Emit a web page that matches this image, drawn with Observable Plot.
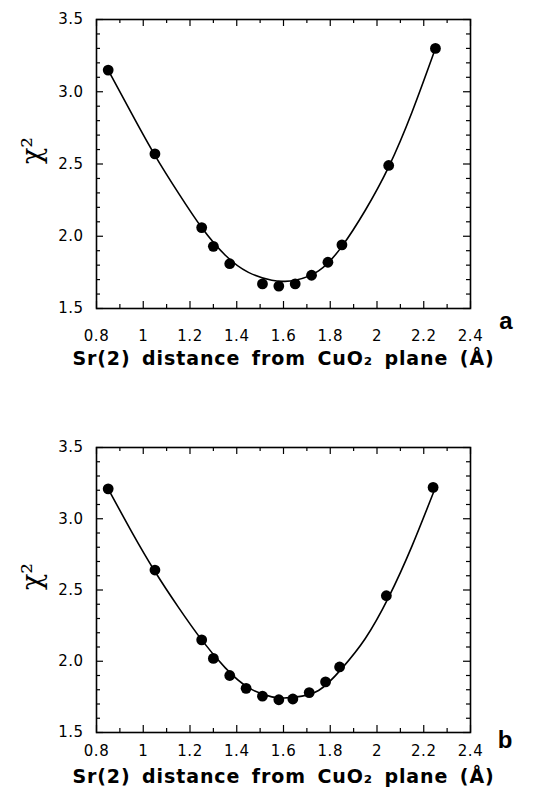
<!DOCTYPE html>
<html>
<head>
<meta charset="utf-8">
<script src="https://cdn.jsdelivr.net/npm/d3@7"></script>
<script src="https://cdn.jsdelivr.net/npm/@observablehq/plot@0.6"></script>
<style>
  body { margin: 0; background: #fff; }
  #chart svg { display: block; }
</style>
</head>
<body>
<div id="chart"></div>
<script>
// chi-squared of the refinement vs. Sr(2) distance from the CuO2 plane
const distA = [0.85, 1.05, 1.25, 1.30, 1.37, 1.51, 1.58, 1.65, 1.72, 1.79, 1.85, 2.05, 2.25];
const chiA  = [3.15, 2.57, 2.06, 1.93, 1.81, 1.67, 1.655, 1.67, 1.73, 1.82, 1.94, 2.49, 3.30];

const distB = [0.85, 1.05, 1.25, 1.30, 1.37, 1.44, 1.51, 1.58, 1.64, 1.71, 1.78, 1.84, 2.04, 2.24];
const chiB  = [3.21, 2.64, 2.15, 2.02, 1.90, 1.81, 1.755, 1.73, 1.735, 1.78, 1.855, 1.96, 2.46, 3.22];

// smooth fitted curves, sampled along x
const fitX  = [0.85, 0.95, 1.05, 1.15, 1.25, 1.35, 1.45, 1.55, 1.60, 1.65, 1.75, 1.85, 1.95, 2.05, 2.15, 2.25];
const fitA  = [3.15, 2.85, 2.56, 2.30, 2.06, 1.87, 1.75, 1.695, 1.688, 1.695, 1.76, 1.93, 2.18, 2.48, 2.86, 3.30];
const fitB  = [3.21, 2.91, 2.63, 2.38, 2.15, 1.955, 1.815, 1.75, 1.742, 1.748, 1.795, 1.95, 2.16, 2.45, 2.81, 3.22];

const xMajor = [0.8, 1.0, 1.2, 1.4, 1.6, 1.8, 2.0, 2.2, 2.4];
const xMinor = [0.9, 1.1, 1.3, 1.5, 1.7, 1.9, 2.1, 2.3];
const yMajor = [1.5, 2.0, 2.5, 3.0, 3.5];
const yMinor = [1.6, 1.7, 1.8, 1.9, 2.1, 2.2, 2.3, 2.4, 2.6, 2.7, 2.8, 2.9, 3.1, 3.2, 3.3, 3.4];

const xTitle = "Sr(2) distance from CuO\u2082 plane (\u00C5)";
const yTitle = "\u03C7\u00B2";
const panelLetters = ["a", "b"];

const W = 538, ML = 96, MR = 68;
const MAJOR = 7, MINOR = 4;

function panel({xs, ys, fit, letter, height, marginTop, marginBottom, tickDy, titleDy, letterDy}) {
  const fitData = fitX.map((x, i) => ({x, y: fit[i]}));
  const pts = xs.map((x, i) => ({x, y: ys[i]}));
  const fh = height - marginTop - marginBottom; // frame height in px
  const fw = W - ML - MR;                        // frame width in px
  const tk = {stroke: "black", strokeWidth: 1.2};
  const svg = Plot.plot({
    width: W,
    height,
    marginLeft: ML,
    marginRight: MR,
    marginTop,
    marginBottom,
    x: {domain: [0.8, 2.4], label: null},
    y: {domain: [1.5, 3.5], label: null},
    style: {fontFamily: "'DejaVu Sans', sans-serif", fontSize: "15px", color: "black", background: "white", overflow: "visible"},
    marks: [
      // inward ticks on all four sides, drawn as short full-frame rules with insets
      Plot.ruleX(xMajor, {x: d => d, insetTop: fh - MAJOR, ...tk}),
      Plot.ruleX(xMinor, {x: d => d, insetTop: fh - MINOR, ...tk}),
      Plot.ruleX(xMajor, {x: d => d, insetBottom: fh - MAJOR, ...tk}),
      Plot.ruleX(xMinor, {x: d => d, insetBottom: fh - MINOR, ...tk}),
      Plot.ruleY(yMajor, {y: d => d, insetRight: fw - MAJOR, ...tk}),
      Plot.ruleY(yMinor, {y: d => d, insetRight: fw - MINOR, ...tk}),
      Plot.ruleY(yMajor, {y: d => d, insetLeft: fw - MAJOR, ...tk}),
      Plot.ruleY(yMinor, {y: d => d, insetLeft: fw - MINOR, ...tk}),
      // tick labels
      Plot.axisX(xMajor, {anchor: "bottom", tickSize: 0, tickPadding: tickDy, tickFormat: d3.format("~g"), label: null, fontSize: 15}),
      Plot.axisY(yMajor, {anchor: "left", tickSize: 0, tickPadding: 13, tickFormat: d3.format(".1f"), label: null, fontSize: 15}),
      Plot.frame({stroke: "black", strokeWidth: 1.6}),
      Plot.line(fitData, {x: "x", y: "y", curve: "natural", stroke: "black", strokeWidth: 1.6}),
      Plot.dot(pts, {x: "x", y: "y", r: 5.4, fill: "black", stroke: "none"}),
      Plot.text([yTitle], {frameAnchor: "left", dx: -64, rotate: -90, fontSize: 27, fontFamily: "'DejaVu Serif', serif"}),
      Plot.text([xTitle], {frameAnchor: "bottom", dy: titleDy, lineAnchor: "middle", fontSize: 19, fontWeight: "bold"}),
      Plot.text([letter], {frameAnchor: "bottom-right", dx: 42, dy: letterDy, lineAnchor: "middle", fontSize: 24, fontWeight: "bold", fontFamily: "'Liberation Sans', Arial, sans-serif"})
    ]
  });
  // typographic spacing for the axis title and tick labels
  d3.select(svg).selectAll("text")
    .filter(function() { return this.textContent === xTitle; })
    .attr("letter-spacing", "0.9px")
    .attr("word-spacing", "4px");
  d3.select(svg).selectAll("g[aria-label$='tick label'] text")
    .attr("letter-spacing", "0.5px");
  return svg;
}

const chart = document.getElementById("chart");
chart.append(panel({xs: distA, ys: chiA, fit: fitA, letter: panelLetters[0], height: 392, marginTop: 19, marginBottom: 84, tickDy: 22, titleDy: 50, letterDy: 13}));
chart.append(panel({xs: distB, ys: chiB, fit: fitB, letter: panelLetters[1], height: 415, marginTop: 55, marginBottom: 75, tickDy: 13, titleDy: 44, letterDy: 8}));
</script>
</body>
</html>
